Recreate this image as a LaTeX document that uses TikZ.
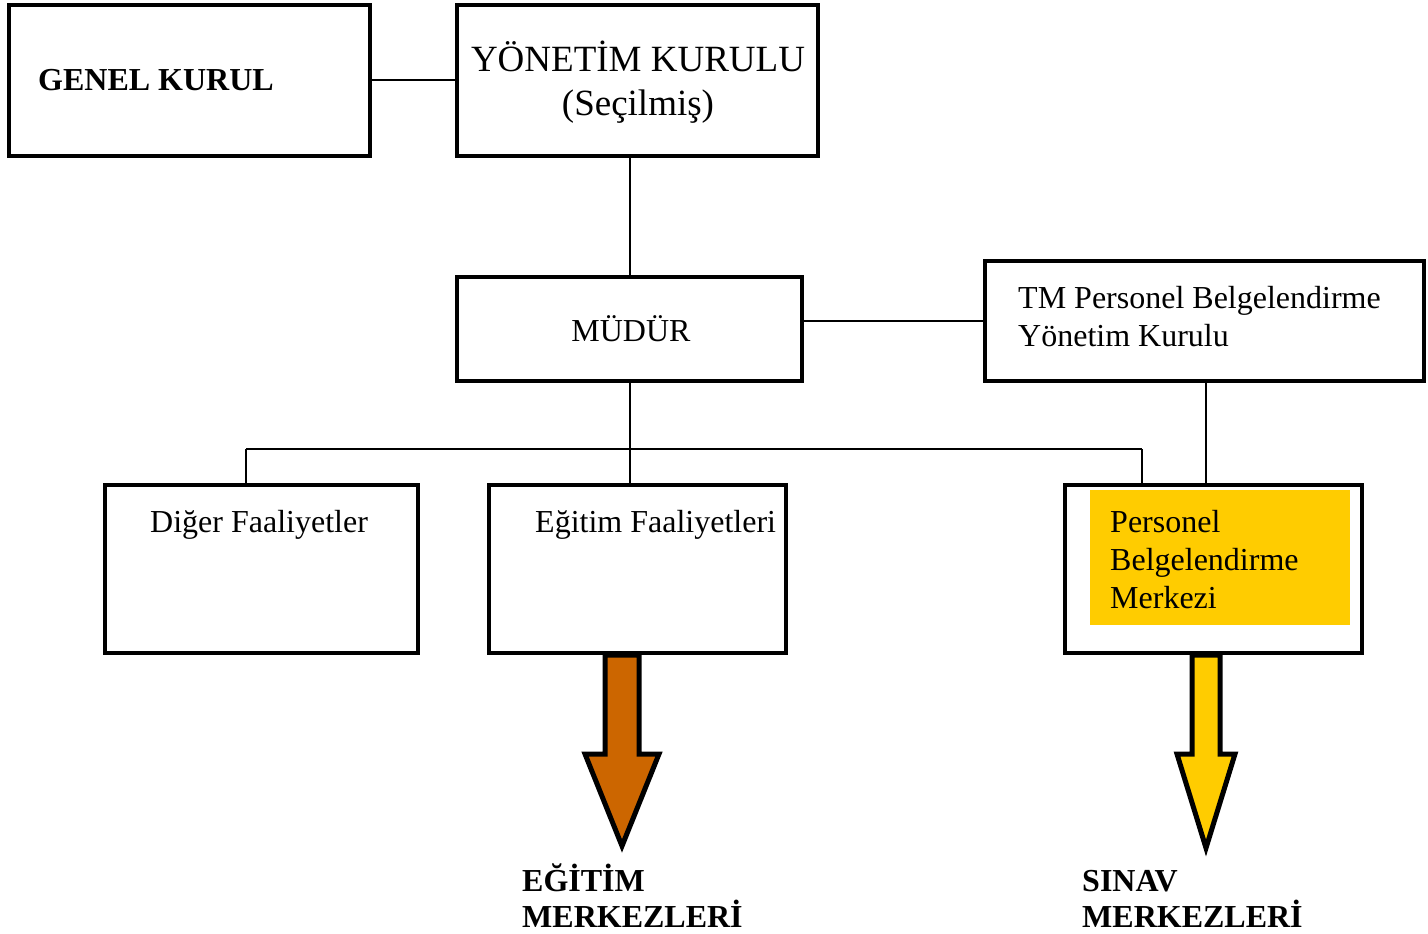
\documentclass[tikz,border=0pt]{standalone}
\usepackage{fontspec}
\setmainfont{Liberation Serif}
\definecolor{gold}{HTML}{FFCC00}
\definecolor{rust}{HTML}{CC6600}
\begin{document}
\begin{tikzpicture}[x=1pt,y=-1pt,
  box/.style={draw=black,line width=4pt,inner sep=0pt,outer sep=0pt,anchor=north west},
  conn/.style={draw=black,line width=2pt},
  txt/.style={inner sep=0pt,anchor=base west,font=\fontsize{32}{38}\selectfont},
  bold/.style={txt,font=\fontsize{32}{36}\selectfont\bfseries},
  bigarrow/.style={draw=black,line width=5pt,line join=miter,miter limit=10}]
\useasboundingbox (0,0) rectangle (1428,934);
% boxes
\node[box,minimum width=361pt,minimum height=151pt] (genel) at (9,5) {};
\node[box,minimum width=361pt,minimum height=151pt] (yonetim) at (457,5) {};
\node[box,minimum width=345pt,minimum height=104pt] (mudur) at (457,277) {};
\node[box,minimum width=439pt,minimum height=120pt] (tm) at (985,261) {};
\node[box,minimum width=313pt,minimum height=168pt] (diger) at (105,485) {};
\node[box,minimum width=297pt,minimum height=168pt] (egitim) at (489,485) {};
\node[box,minimum width=297pt,minimum height=168pt] (pbm) at (1065,485) {};
\fill[gold] (1090,490) rectangle (1350,625);
% texts
\node[bold] (tgenel) at (38,91) {GENEL KURUL};
\node[inner sep=0pt,anchor=base,font=\fontsize{37}{44}\selectfont] (tyon1) at (638,72) {YÖNETİM KURULU};
\node[inner sep=0pt,anchor=base,font=\fontsize{37}{44}\selectfont] (tyon2) at (638,116) {(Seçilmiş)};
\node[inner sep=0pt,anchor=base,font=\fontsize{32}{38}\selectfont] (tmud) at (631,341) {MÜDÜR};
\node[txt] (ttm1) at (1018,308) {TM Personel Belgelendirme};
\node[txt] (ttm2) at (1018,346) {Yönetim Kurulu};
\node[txt] (tdig) at (150,532) {Diğer Faaliyetler};
\node[txt] (tegi) at (535,532) {Eğitim Faaliyetleri};
\node[txt] (tp1) at (1110,532) {Personel};
\node[txt] (tp2) at (1110,570) {Belgelendirme};
\node[txt] (tp3) at (1110,608) {Merkezi};
\node[bold] (te1) at (522,891) {EĞİTİM};
\node[bold] (te2) at (522,927) {MERKEZLERİ};
\node[bold] (ts1) at (1082,891) {SINAV};
\node[bold] (ts2) at (1082,927) {MERKEZLERİ};
% connectors
\coordinate (busL) at (246,449);
\coordinate (busR) at (1142,449);
\coordinate (busM) at (630,449);
\draw[conn] (genel.east) -- (genel.east -| yonetim.west);
\draw[conn] (yonetim.south -| busM) -- (mudur.north -| busM);
\draw[conn] (mudur.east |- tm.west) -- (tm.west);
\draw[conn] (mudur.south -| busM) -- (egitim.north -| busM);
\draw[conn] (busL) -- (busR);
\draw[conn] (busL) -- (busL |- diger.north);
\draw[conn] (busR) -- (busR |- pbm.north);
\draw[conn] (tm.south -| 1206,0) -- (pbm.north -| 1206,0);
% big arrows
\draw[bigarrow,fill=rust] (605,655) -- (605,754) -- (585,754) -- (622,846) -- (659,754) -- (639,754) -- (639,655) -- cycle;
\draw[bigarrow,fill=gold] (1192,655) -- (1192,754) -- (1177,754) -- (1206,848) -- (1235,754) -- (1220,754) -- (1220,655) -- cycle;
\end{tikzpicture}
\end{document}
